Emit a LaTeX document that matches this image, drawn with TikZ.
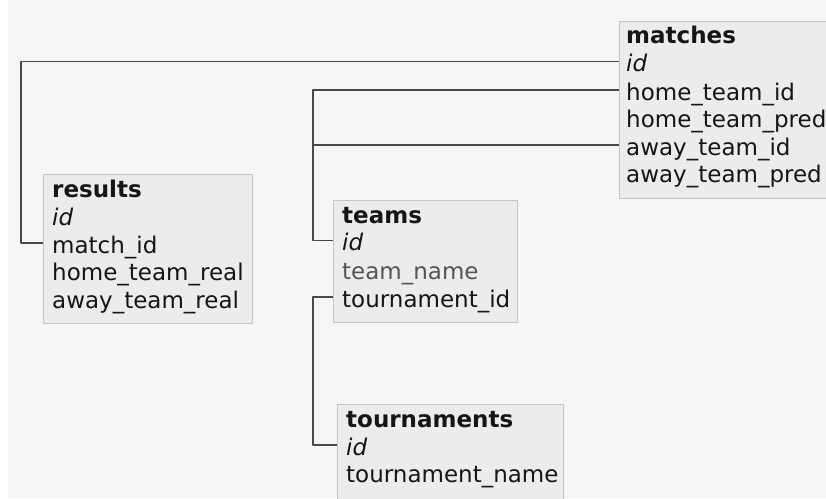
\documentclass[tikz,border=0pt]{standalone}
\usepackage{fontspec}
\newfontfamily\dejavu{DejaVu Sans}
\newcommand\fieldfont{\dejavu\fontsize{23}{27}\selectfont}

\definecolor{pagebg}{HTML}{F6F6F6}
\definecolor{tblfill}{HTML}{ECECEC}
\definecolor{tblline}{HTML}{C4C4C4}
\definecolor{ink}{HTML}{151515}
\definecolor{inkdim}{HTML}{555555}
\definecolor{linkcol}{HTML}{484848}

\tikzset{
  tbl/.style={draw=tblline, fill=tblfill, line width=1.3pt, anchor=north west, inner sep=0pt},
  fld/.style={anchor=base west, inner sep=0pt, font=\fieldfont, text=ink},
  ttl/.style={fld, font=\fieldfont\bfseries},
  keyfld/.style={fld, font=\fieldfont\itshape},
  dimfld/.style={fld, text=inkdim},
  link/.style={draw=linkcol, line width=1.8pt, line join=round},
  % connectors meet a field 10pt above its baseline
  rowpt/.style={yshift=10pt}
}

\begin{document}
\begin{tikzpicture}[x=1pt,y=-1pt]
  \useasboundingbox (0,0) rectangle (826,498);
  \clip (0,0) rectangle (826,498);
  \fill[pagebg] (0,0) rectangle (826,498);
  \fill[white] (0,0) rectangle (8,498);

  % table boxes
  \node[tbl, minimum width=230pt, minimum height=177pt] (matches) at (619,21) {};
  \node[tbl, minimum width=209pt, minimum height=149pt] (results) at (43,174) {};
  \node[tbl, minimum width=184pt, minimum height=122pt] (teams) at (333,200) {};
  \node[tbl, minimum width=226pt, minimum height=110pt] (tourn) at (337,404) {};

  % matches
  \node[ttl]    (m-title) at (626,43)  {matches};
  \node[keyfld] (m-id)    at (626,71.5){id};
  \node[fld]    (m-home)  at (626,100) {home\_team\_id};
  \node[fld]    (m-hpred) at (626,127.5) {home\_team\_pred};
  \node[fld]    (m-away)  at (626,155) {away\_team\_id};
  \node[fld]    (m-apred) at (626,182) {away\_team\_pred};

  % results
  \node[ttl]    (r-title) at (52,197)  {results};
  \node[keyfld] (r-id)    at (52,225)  {id};
  \node[fld]    (r-match) at (52,253)  {match\_id};
  \node[fld]    (r-home)  at (52,280.5){home\_team\_real};
  \node[fld]    (r-away)  at (52,308)  {away\_team\_real};

  % teams
  \node[ttl]    (t-title) at (342,223) {teams};
  \node[keyfld] (t-id)    at (342,250.5) {id};
  \node[dimfld] (t-name)  at (342,279) {team\_name};
  \node[fld]    (t-tour)  at (342,307) {tournament\_id};

  % tournaments
  \node[ttl]    (u-title) at (346,427) {tournaments};
  \node[keyfld] (u-id)    at (346,455) {id};
  \node[fld]    (u-name)  at (346,482.5) {tournament\_name};

  % routing rails for the connectors
  \coordinate (railA) at (21,0);
  \coordinate (railB) at (313,0);

  % foreign keys
  \draw[link] ([rowpt]m-id.base west -| matches.west) -- ([rowpt]m-id.base west -| railA)
              |- ([rowpt]r-match.base west -| results.west);
  \draw[link] ([rowpt]m-home.base west -| matches.west) -- ([rowpt]m-home.base west -| railB)
              |- ([rowpt]t-id.base west -| teams.west);
  \draw[link] ([rowpt]m-away.base west -| matches.west) -- ([rowpt]m-away.base west -| railB);
  \draw[link] ([rowpt]t-tour.base west -| teams.west) -- ([rowpt]t-tour.base west -| railB)
              |- ([rowpt]u-id.base west -| tourn.west);
\end{tikzpicture}
\end{document}
